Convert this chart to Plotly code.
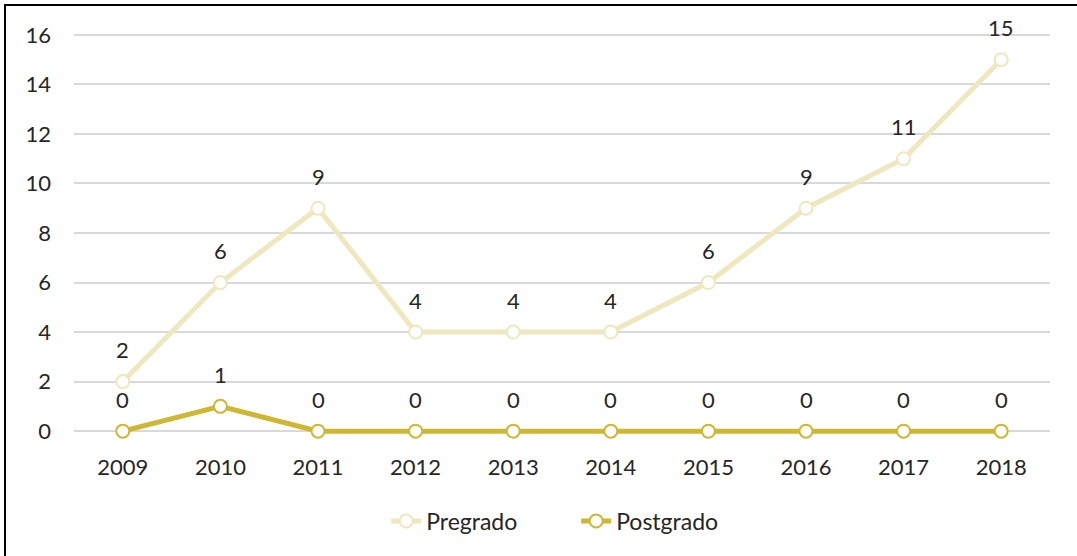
import plotly.graph_objects as go

years = ["2009", "2010", "2011", "2012", "2013", "2014", "2015", "2016", "2017", "2018"]
pregrado = [2, 6, 9, 4, 4, 4, 6, 9, 11, 15]
postgrado = [0, 1, 0, 0, 0, 0, 0, 0, 0, 0]
y_ticks = [0, 2, 4, 6, 8, 10, 12, 14, 16]

c_pre = "#EFE7BD"
c_post = "#CDB733"
font_family = "Lato, 'Open Sans', sans-serif"
fs = 22

fig = go.Figure()
annotations = []
for name, vals, col in [("Pregrado", pregrado, c_pre), ("Postgrado", postgrado, c_post)]:
    fig.add_trace(go.Scatter(
        x=years, y=vals, name=name, mode="lines+markers",
        line=dict(color=col, width=5),
        marker=dict(size=13, color="white", line=dict(color=col, width=2)),
        cliponaxis=False,
    ))
    for i, yv in enumerate(vals):
        annotations.append(dict(x=i, y=yv, xref="x", yref="y", text=str(yv), showarrow=False,
                                yshift=32, font=dict(size=fs, color="#262626", family=font_family)))

fig.update_layout(
    width=1077, height=556,
    margin=dict(l=74, r=27, t=20, b=110),
    paper_bgcolor="white", plot_bgcolor="white",
    font=dict(family=font_family, size=fs, color="#262626"),
    xaxis=dict(showgrid=False, showline=False, ticks="", type="category",
               tickfont=dict(size=fs), range=[-0.5, 9.5], ticklabelstandoff=6),
    yaxis=dict(range=[-0.6, 16.6], tickvals=y_ticks, showgrid=True, gridcolor="#D9D9D9",
               gridwidth=2, zeroline=False, showline=False, ticks="",
               tickfont=dict(size=fs), ticklabelstandoff=22),
    legend=dict(orientation="h", x=0.5145, xanchor="center", y=-0.176, yanchor="middle",
                font=dict(size=23), traceorder="normal",
                entrywidth=145, entrywidthmode="pixels"),
    showlegend=True,
    annotations=annotations,
)

# chart frame (left and top edges visible)
fig.add_shape(type="rect", xref="paper", yref="paper",
              x0=-69/976, x1=1.2, y0=-0.6, y1=1 + 15/426,
              line=dict(color="black", width=2), fillcolor="rgba(0,0,0,0)", layer="above")

fig.write_html("out.html", config={"displayModeBar": False},
               post_script="document.body.style.margin='0';")
